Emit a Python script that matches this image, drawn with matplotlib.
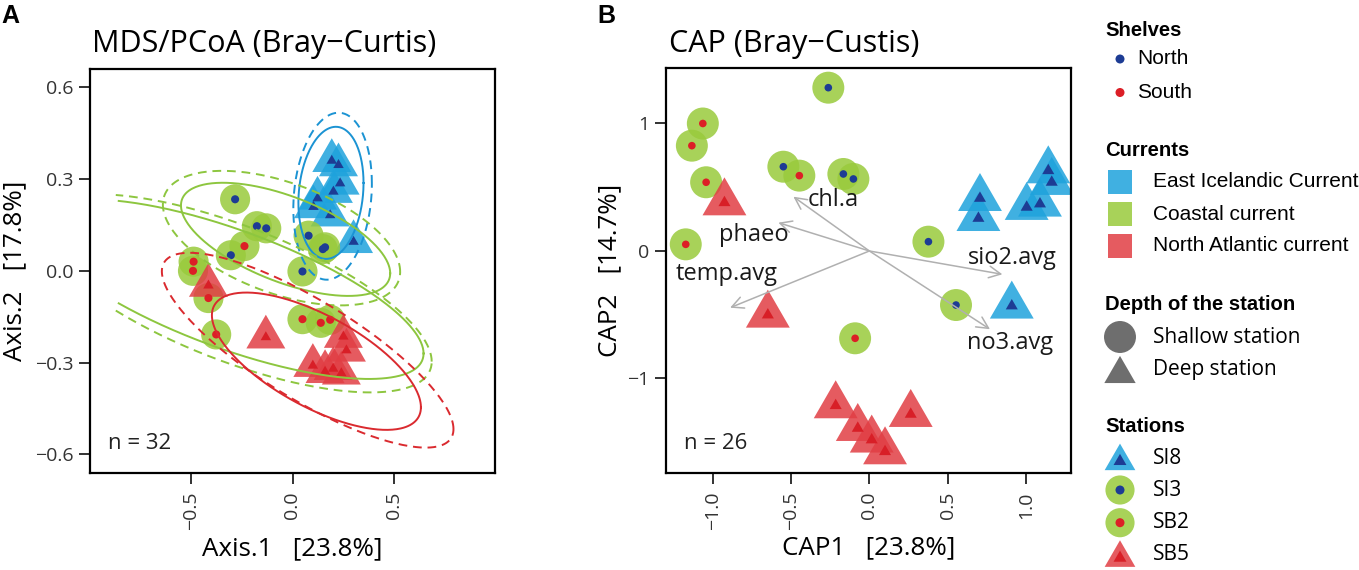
#!/usr/bin/env python3
"""
Ordination figure: A = MDS/PCoA, B = CAP, shared legend on the right.
"""
import matplotlib
matplotlib.use('Agg')
import matplotlib.pyplot as plt
from matplotlib.patches import Rectangle
import numpy as np

plt.rcParams.update({
    'font.family': 'Open Sans',
    'font.size': 14,
    'axes.linewidth': 1.6,
    'xtick.major.size': 8,
    'ytick.major.size': 8,
    'xtick.major.width': 1.3,
    'ytick.major.width': 1.3,
    'xtick.labelsize': 14,
    'ytick.labelsize': 14,
    'xtick.color': '#222222',
    'ytick.color': '#222222',
    'xtick.labelcolor': '#333333',
    'ytick.labelcolor': '#333333',
})

W, H = 1359, 570
STATIONS = ['SI8', 'SI3', 'SB2', 'SB5']

# ══════════════════════════════════════════════════════════════
# Data — panel A (PCoA scores)
# ══════════════════════════════════════════════════════════════
A_SI8_X = [0.193, 0.226, 0.234, 0.201, 0.123, 0.103, 0.185, 0.300]
A_SI8_Y = [0.360, 0.346, 0.286, 0.259, 0.237, 0.209, 0.182, 0.095]
A_SI3_X = [-0.282, -0.175, -0.129, -0.303, 0.079, 0.149, 0.160, 0.049]
A_SI3_Y = [0.234, 0.146, 0.139, 0.051, 0.115, 0.071, 0.077, -0.002]
A_SB2_X = [-0.236, -0.486, -0.489, -0.413, -0.375, 0.049, 0.139, 0.185]
A_SB2_Y = [0.081, 0.030, 0.000, -0.089, -0.208, -0.158, -0.170, -0.160]
A_SB5_X = [-0.413, -0.131, 0.250, 0.265, 0.100, 0.160, 0.200, 0.240]
A_SB5_Y = [-0.048, -0.217, -0.215, -0.260, -0.310, -0.330, -0.320, -0.335]

# ellipses: centre, half extents, correlation, visible left limit
ELL_STATION = ['SI8', 'SI8', 'SI3', 'SI3', 'SB2', 'SB2', 'SB5', 'SB5']
ELL_DASHED = [False, True, False, True, False, True, False, True]
ELL_CX = [0.189, 0.197, -0.034, -0.054, -0.306, -0.290, 0.1175, 0.0745]
ELL_CY = [0.255, 0.244, 0.103, 0.107, -0.060, -0.0735, -0.2955, -0.2595]
ELL_HX = [0.160, 0.193, 0.514, 0.583, 0.950, 0.974, 0.5135, 0.7165]
ELL_HY = [0.216, 0.273, 0.185, 0.220, 0.2935, 0.324, 0.2245, 0.3185]
ELL_RHO = [0.15, 0.15, -0.60, -0.50, -0.716, -0.689, -0.67, -0.81]
ELL_XCUT = [-9, -9, -9, -9, -0.855, -0.88, -9, -9]

# ══════════════════════════════════════════════════════════════
# Data — panel B (CAP scores + environmental vectors)
# ══════════════════════════════════════════════════════════════
B_SI8_X = [0.706, 0.696, 1.004, 1.089, 1.142, 1.164, 0.909]
B_SI8_Y = [0.413, 0.256, 0.343, 0.369, 0.630, 0.539, -0.431]
B_SI3_X = [-0.262, -0.549, -0.166, -0.102, 0.377, 0.553]
B_SI3_Y = [1.281, 0.661, 0.604, 0.565, 0.073, -0.424]
B_SB2_X = [-1.063, -1.133, -1.042, -1.172, -0.447, -0.091]
B_SB2_Y = [1.000, 0.826, 0.539, 0.052, 0.591, -0.685]
B_SB5_X = [-0.925, -0.648, -0.215, -0.074, 0.264, 0.015, 0.100]
B_SB5_Y = [0.379, -0.502, -1.213, -1.391, -1.281, -1.482, -1.574]

ENV_NAMES = ['chl.a', 'phaeo', 'temp.avg', 'sio2.avg', 'no3.avg']
ENV_X = [-0.485, -0.581, -0.889, 0.849, 0.770]
ENV_Y = [0.426, 0.222, -0.445, -0.183, -0.614]
ENV_LAB_X = [-0.23, -0.74, -0.91, 0.914, 0.897]
ENV_LAB_Y = [0.40, 0.125, -0.183, -0.057, -0.724]

# ══════════════════════════════════════════════════════════════
# Styles
# ══════════════════════════════════════════════════════════════
CUR_COL = {'SI8': '#1ea2dc', 'SI3': '#99ca3c', 'SB2': '#99ca3c', 'SB5': '#e13e44'}
DOT_COL = {'SI8': '#1d3c94', 'SI3': '#1d3c94', 'SB2': '#dc1f26', 'SB5': '#d81f27'}
ELL_COL = {'SI8': '#1b93d3', 'SI3': '#8dc63f', 'SB2': '#8dc63f', 'SB5': '#da2a2f'}
IS_TRI = {'SI8': True, 'SI3': False, 'SB2': False, 'SB5': True}
TRI = [(0, 1), (-0.866, -0.5), (0.866, -0.5)]   # centroid-centred triangle
ALPHA = 0.85


def ellipse_pts(cx, cy, hx, hy, rho, xcut, n=300):
    t = np.linspace(0, 2 * np.pi, n)
    x = cx + hx * np.cos(t)
    y = cy + hy * (rho * np.cos(t) + np.sqrt(1 - rho ** 2) * np.sin(t))
    x = np.where(x < xcut, np.nan, x)
    return x, y


def draw_points(ax, data, sizes):
    s_circ, s_dot, s_tri, s_itri = sizes
    for st in STATIONS:
        xs, ys = data[st]
        if IS_TRI[st]:
            ax.scatter(xs, ys, s=s_tri, marker=TRI, color=CUR_COL[st],
                       alpha=ALPHA, edgecolors='none', zorder=2)
        else:
            ax.scatter(xs, ys, s=s_circ, marker='o', color=CUR_COL[st],
                       alpha=ALPHA, edgecolors='none', zorder=2)
    for st in STATIONS:
        xs, ys = data[st]
        if IS_TRI[st]:
            ax.scatter(xs, ys, s=s_itri, marker=TRI, color=DOT_COL[st],
                       edgecolors='none', zorder=3)
        else:
            ax.scatter(xs, ys, s=s_dot, marker='o', color=DOT_COL[st],
                       edgecolors='none', zorder=3)


def style_axes(ax):
    ax.tick_params(axis='x', labelrotation=90, pad=5)
    ax.tick_params(axis='y', pad=4)
    for sp in ax.spines.values():
        sp.set_color('black')


fig = plt.figure(figsize=(W / 100, H / 100), dpi=100)

# ── Panel A ─────────────────────────────────────────────────
axA = fig.add_axes([90 / W, 1 - 473.3 / H, 405 / W, 404 / H])
draw_points(axA, {'SI8': (A_SI8_X, A_SI8_Y), 'SI3': (A_SI3_X, A_SI3_Y),
                  'SB2': (A_SB2_X, A_SB2_Y), 'SB5': (A_SB5_X, A_SB5_Y)},
            (470, 34, 1050, 75))
for i, st in enumerate(ELL_STATION):
    ex, ey = ellipse_pts(ELL_CX[i], ELL_CY[i], ELL_HX[i], ELL_HY[i],
                         ELL_RHO[i], ELL_XCUT[i])
    ls = (0, (4.5, 3)) if ELL_DASHED[i] else '-'
    axA.plot(ex, ey, color=ELL_COL[st], lw=1.4, ls=ls, zorder=4)
axA.set_xlim(-0.995, 0.995)
axA.set_ylim(-0.662, 0.659)
axA.set_xticks([-0.5, 0.0, 0.5])
axA.set_yticks([-0.6, -0.3, 0.0, 0.3, 0.6])
style_axes(axA)
axA.set_xlabel('Axis.1   [23.8%]', fontsize=18.7, va='center')
axA.set_ylabel('Axis.2   [17.8%]', fontsize=18.7, va='center')
axA.xaxis.set_label_coords(0.5, -0.187)
axA.yaxis.set_label_coords(-0.185, 0.5)
axA.text(0.045, 0.074, 'n = 32', transform=axA.transAxes, fontsize=16,
         va='center', ha='left', color='#222222')

# ── Panel B ─────────────────────────────────────────────────
axB = fig.add_axes([665.7 / W, 1 - 473.3 / H, 405.3 / W, 405 / H])
draw_points(axB, {'SI8': (B_SI8_X, B_SI8_Y), 'SI3': (B_SI3_X, B_SI3_Y),
                  'SB2': (B_SB2_X, B_SB2_Y), 'SB5': (B_SB5_X, B_SB5_Y)},
            (530, 30, 1330, 100))
for name, ex, ey, lx, ly in zip(ENV_NAMES, ENV_X, ENV_Y, ENV_LAB_X, ENV_LAB_Y):
    axB.annotate('', xy=(ex, ey), xytext=(0, 0), zorder=5,
                 arrowprops=dict(arrowstyle='->,head_length=0.6,head_width=0.3',
                                 color='#b0b0b0', lw=1.1, shrinkA=0, shrinkB=0))
    axB.text(lx, ly, name, fontsize=17, ha='center', va='center',
             color='#1a1a1a', zorder=6)
axB.set_xlim(-1.30, 1.287)
axB.set_ylim(-1.744, 1.433)
axB.set_xticks([-1.0, -0.5, 0.0, 0.5, 1.0])
axB.set_yticks([-1, 0, 1])
style_axes(axB)
axB.set_xlabel('CAP1   [23.8%]', fontsize=18.7, va='center')
axB.set_ylabel('CAP2   [14.7%]', fontsize=18.7, va='center')
axB.xaxis.set_label_coords(0.5, -0.184)
axB.yaxis.set_label_coords(-0.137, 0.5)
axB.text(0.045, 0.074, 'n = 26', transform=axB.transAxes, fontsize=16,
         va='center', ha='left', color='#222222')

# titles and panel letters
fig.text(92 / W, 1 - 44 / H, 'MDS/PCoA (Bray\u2212Curtis)', fontsize=22,
         va='center', ha='left')
fig.text(669 / W, 1 - 44 / H, 'CAP (Bray\u2212Custis)', fontsize=22,
         va='center', ha='left')
fig.text(1 / W, 1 - 16 / H, 'A', fontsize=18, fontweight='bold',
         family='Liberation Sans', va='center', ha='left')
fig.text(597 / W, 1 - 16 / H, 'B', fontsize=18, fontweight='bold',
         family='Liberation Sans', va='center', ha='left')

# ── Legend (pixel space) ────────────────────────────────────
lax = fig.add_axes([0, 0, 1, 1], zorder=-1)
lax.set_xlim(0, W)
lax.set_ylim(H, 0)
lax.axis('off')

HEAD_X, KEY_X, TXT_X = 1105, 1120, 1153
head = dict(fontsize=14.6, fontweight='bold', family='Liberation Sans',
            va='center', ha='left')
item_sans = dict(fontsize=15, family='Liberation Sans', va='center', ha='left')
item_open = dict(fontsize=15, va='center', ha='left')

lax.text(HEAD_X, 30, 'Shelves', **head)
for lab, y, st in [('North', 59, 'SI3'), ('South', 92.5, 'SB2')]:
    lax.scatter([KEY_X], [y], s=42, color=DOT_COL[st], edgecolors='none')
    lax.text(1137, y, lab, **item_sans)

lax.text(HEAD_X, 150, 'Currents', **head)
for lab, y, st in [('East Icelandic Current', 181.7, 'SI8'),
                   ('Coastal current', 214, 'SI3'),
                   ('North Atlantic current', 245.7, 'SB5')]:
    lax.add_patch(Rectangle((KEY_X - 12, y - 12), 24, 24, color=CUR_COL[st],
                            alpha=ALPHA, lw=0))
    lax.text(TXT_X, y, lab, **item_sans)

lax.text(HEAD_X, 305, 'Depth of the station', **head)
lax.scatter([KEY_X], [337], s=530, marker='o', color='#6e6e6e', edgecolors='none')
lax.scatter([KEY_X], [374], s=680, marker=TRI, color='#6e6e6e', edgecolors='none')
lax.text(TXT_X, 337.3, 'Shallow station', **item_open)
lax.text(TXT_X, 369.3, 'Deep station', **item_open)

lax.text(HEAD_X, 427, 'Stations', **head)
for st, y in zip(STATIONS, [458.3, 490, 522.7, 555]):
    if IS_TRI[st]:
        lax.scatter([KEY_X], [y + 3], s=650, marker=TRI, color=CUR_COL[st],
                    alpha=ALPHA, edgecolors='none')
        lax.scatter([KEY_X], [y + 3], s=115, marker=TRI, color=DOT_COL[st],
                    edgecolors='none')
    else:
        lax.scatter([KEY_X], [y], s=440, marker='o', color=CUR_COL[st],
                    alpha=ALPHA, edgecolors='none')
        lax.scatter([KEY_X], [y], s=42, marker='o', color=DOT_COL[st],
                    edgecolors='none')
    lax.text(TXT_X, y, st, **item_open)

fig.savefig('out.png', dpi=100)
plt.close(fig)
